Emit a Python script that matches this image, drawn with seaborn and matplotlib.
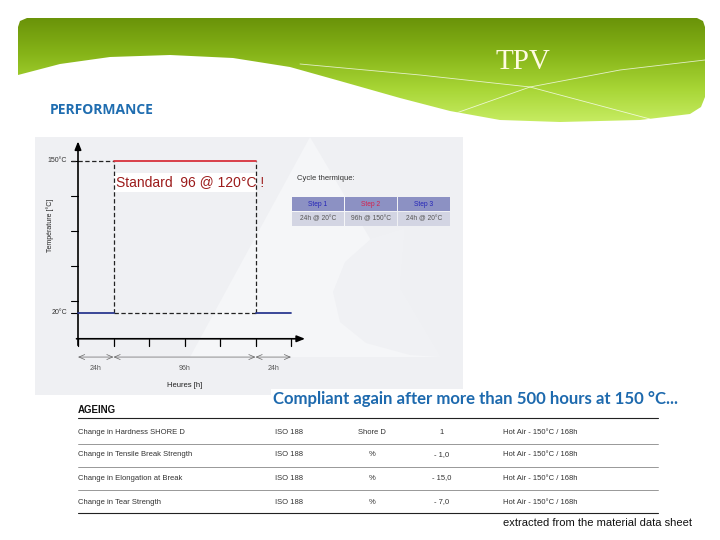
import numpy as np
import matplotlib.pyplot as plt
import seaborn as sns
from matplotlib.colors import LinearSegmentedColormap
from matplotlib.patches import Polygon, Rectangle

# thermal cycle shown in the chart
STEPS = ["Step 1", "Step 2", "Step 3"]
STEP_HOURS = [24, 96, 24]
STEP_TEMPS = [20, 150, 20]
STEP_CELLS = ["24h @ 20°C", "96h @ 150°C", "24h @ 20°C"]
Y_TICKS = [20, 30, 60, 90, 120, 150]
Y_LABELED = [20, 150]
X_TICKS = [0, 24, 48, 72, 96, 120, 144]
NOTE = "Standard  96 @ 120°C !"

# ageing table under the chart
AGEING_PROPS = ["Change in Hardness SHORE D", "Change in Tensile Break Strength",
                "Change in Elongation at Break", "Change in Tear Strength"]
AGEING_NORM = ["ISO 188", "ISO 188", "ISO 188", "ISO 188"]
AGEING_UNIT = ["Shore D", "%", "%", "%"]
AGEING_VALUE = ["1", "- 1,0", "- 15,0", "- 7,0"]
AGEING_COND = ["Hot Air - 150°C / 168h"] * 4

W, H = 720, 540

sns.set_theme(style="white")
plt.rcParams["font.family"] = ["Liberation Sans", "DejaVu Sans"]

fig = plt.figure(figsize=(7.2, 5.4), dpi=100)
fig.patch.set_facecolor("white")

# background layer in pixel coordinates
bg = fig.add_axes([0, 0, 1, 1], zorder=0)
bg.set_xlim(0, W)
bg.set_ylim(H, 0)
bg.axis("off")

# green banner with the white wave
banner_pts = [(18, 27), (20, 21), (27, 18), (697, 18), (703, 21), (705, 27),
              (705, 97), (701, 107), (690, 114), (640, 120), (560, 122), (500, 120),
              (450, 111), (400, 98), (340, 81), (290, 67), (233, 58), (170, 55),
              (110, 57), (60, 64), (18, 75)]
grad = np.linspace(0, 1, 256).reshape(-1, 1)
cmap = LinearSegmentedColormap.from_list(
    "banner", ["#6a9309", "#86b418", "#a8d636", "#c9ee66"])
im = bg.imshow(grad, cmap=cmap, extent=(18, 705, 125, 18), aspect="auto", zorder=1)
clip = Polygon(banner_pts, closed=True, fc="none", ec="none", transform=bg.transData)
bg.add_patch(clip)
im.set_clip_path(clip)
for pts in ([(300, 64), (420, 75), (530, 87), (650, 119)],
            [(445, 117), (530, 87), (620, 70), (705, 60)]):
    xs, ys = zip(*pts)
    ln, = bg.plot(xs, ys, color="white", lw=0.6, alpha=0.75, zorder=2)
    ln.set_clip_path(clip)

bg.text(523, 62, "TPV", fontsize=21, color="#fffbe2", ha="center", va="center",
        family=["Liberation Serif", "DejaVu Serif"], zorder=3)
bg.text(50, 110, "PERFORMANCE", fontsize=10, color="#1f6db0", weight="bold",
        ha="left", va="center", family=["Open Sans", "DejaVu Sans"])

# chart panel with faint logo
bg.add_patch(Rectangle((35, 137), 428, 258, fc="#eff0f3", ec="none", zorder=1))
bg.add_patch(Polygon([(310, 137), (190, 357), (440, 357)], fc="#f5f6f8", ec="none", zorder=2))
bg.add_patch(Polygon([(405, 228), (372, 238), (345, 262), (333, 292), (340, 322),
                      (366, 343), (410, 355), (440, 357), (400, 288)],
                     fc="#f0f1f4", ec="none", zorder=3))

# chart axes, data units: hours / degrees C
sx = 213 / 144
sy = 152.3 / 130
ax = fig.add_axes([35 / W, (H - 395) / H, 428 / W, 258 / H], zorder=1)
ax.set_xlim(-43 / sx, 385 / sx)
ax.set_ylim(20 - 82 / sy, 150 + 23.7 / sy)
ax.patch.set_alpha(0)
ax.axis("off")

starts = np.concatenate([[0], np.cumsum(STEP_HOURS)[:-1]])
ends = np.cumsum(STEP_HOURS)
hot, cold = max(STEP_TEMPS), min(STEP_TEMPS)
line_colors = ["#2b3990", "#d7323c", "#2b3990"]

# white box behind the note
ax.add_patch(Rectangle((starts[1], 123.3), STEP_HOURS[1], 16.2, fc="white", ec="none", zorder=2))

for s, e, t, c in zip(starts, ends, STEP_TEMPS, line_colors):
    sns.lineplot(x=[s, e], y=[t, t], color=c, lw=1.3, ax=ax, zorder=4)

dash = dict(color="#222222", lw=0.9, ls=(0, (3.5, 2)), zorder=3)
ax.plot([-5, starts[1]], [hot, hot], **dash)
ax.plot([starts[1], starts[1]], [cold, hot], **dash)
ax.plot([ends[1], ends[1]], [cold, hot], **dash)
ax.plot([starts[1], ends[1]], [cold, cold], **dash)

# axes with arrows
arrow = dict(arrowstyle="-|>,head_length=0.4,head_width=0.16", color="black",
             lw=1.2, shrinkA=0, shrinkB=0)
ax.annotate("", xy=(0, 166.5), xytext=(0, -7.5), arrowprops=arrow)
ax.annotate("", xy=(153.5, -2), xytext=(-1, -2), arrowprops=arrow)
for t in Y_TICKS:
    ax.plot([-4.5, 0], [t, t], color="black", lw=0.8)
for t in Y_LABELED:
    ax.text(-7.5, t, f"{t}°C", fontsize=5, color="#333333", ha="right", va="center")
for t in X_TICKS:
    ax.plot([t, t], [-2, -8], color="black", lw=0.9)

# step durations
span = dict(arrowstyle="<->,head_length=0.35,head_width=0.15", color="#666666",
            lw=0.5, shrinkA=0, shrinkB=0)
for s, e, h in zip(starts, ends, STEP_HOURS):
    ax.annotate("", xy=(e, -17.6), xytext=(s, -17.6), arrowprops=span)
    ax.text((s + e) / 2, -27, f"{h}h", fontsize=5, color="#555555", ha="center", va="center")

ax.text(ends[-1] / 2, -41.5, "Heures [h]", fontsize=5.5, color="#222222", ha="center", va="center")
ax.text(-19, 95, "Température [°C]", fontsize=5, color="#222222", rotation=90,
        ha="center", va="center")
ax.text(starts[1] + 1.5, 131.5, NOTE, fontsize=10, color="#9c1b1b", ha="left",
        va="center", zorder=5)

# foreground layer in pixel coordinates
fg = fig.add_axes([0, 0, 1, 1], zorder=2)
fg.set_xlim(0, W)
fg.set_ylim(H, 0)
fg.axis("off")
fg.patch.set_alpha(0)

fg.text(297, 178, "Cycle thermique:", fontsize=5.5, color="#333333", ha="left", va="center")
head_colors = ["#2424b8", "#d4204c", "#2424b8"]
for i, (step, cell) in enumerate(zip(STEPS, STEP_CELLS)):
    x0 = 292 + i * 53
    fg.add_patch(Rectangle((x0, 197), 51.5, 14, fc="#8c91c3", ec="none"))
    fg.add_patch(Rectangle((x0, 212), 51.5, 14, fc="#d3d5e3", ec="none"))
    fg.text(x0 + 25.75, 204, step, fontsize=4.8, color=head_colors[i], ha="center", va="center")
    fg.text(x0 + 25.75, 219, cell, fontsize=4.8, color="#555555", ha="center", va="center")

fg.text(273, 399, "Compliant again after more than 500 hours at 150 °C...", fontsize=12.1,
        color="#1e6aae", weight="bold", ha="left", va="center",
        family=["Lato", "DejaVu Sans"],
        bbox=dict(fc="white", ec="none", pad=1.5))

fg.text(78, 410, "AGEING", fontsize=7, weight="bold", color="#111111", ha="left", va="center")
fg.plot([78, 658], [418, 418], color="#222222", lw=0.8)
row_y = [432, 455, 478, 502]
for i, y in enumerate(row_y):
    fg.text(78, y, AGEING_PROPS[i], fontsize=5.5, color="#333333", ha="left", va="center")
    fg.text(275, y, AGEING_NORM[i], fontsize=5.5, color="#333333", ha="left", va="center")
    fg.text(372, y, AGEING_UNIT[i], fontsize=5.5, color="#333333", ha="center", va="center")
    fg.text(442, y, AGEING_VALUE[i], fontsize=5.5, color="#333333", ha="center", va="center")
    fg.text(503, y, AGEING_COND[i], fontsize=5.5, color="#333333", ha="left", va="center")
    if i < len(row_y) - 1:
        fg.plot([78, 658], [y + 11.5, y + 11.5], color="#888888", lw=0.6)
fg.plot([78, 658], [513, 513], color="#222222", lw=0.8)

fg.text(692, 523, "extracted from the material data sheet", fontsize=8, color="#111111",
        ha="right", va="center")

fig.savefig("out.png", dpi=100)
